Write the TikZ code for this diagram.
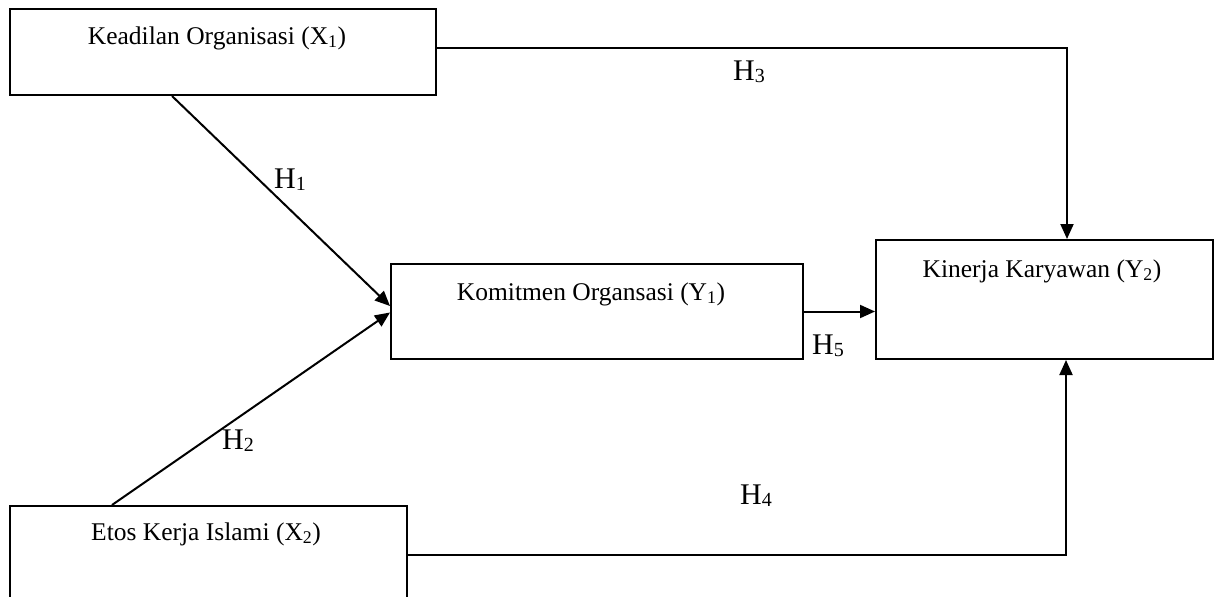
\documentclass[tikz,border=0pt]{standalone}
\usepackage{fontspec}
\setmainfont{Liberation Serif}
\usetikzlibrary{arrows.meta,calc}
\newcommand{\hsub}[1]{\raisebox{-0.08em}{\fontsize{20}{20}\selectfont #1}}
\begin{document}
\begin{tikzpicture}[x=1pt,y=-1pt,
  box/.style={draw,line width=2pt,rectangle,anchor=north west,inner sep=0pt},
  txt/.style={anchor=base,inner sep=0pt,font=\fontsize{25.5}{30}\selectfont},
  hyp/.style={anchor=base west,inner sep=0pt,font=\fontsize{30}{34}\selectfont},
  arr/.style={line width=2pt,-{Triangle[length=15pt,width=13pt]}},
  ln/.style={line width=2pt}]
\clip (0,0) rectangle (1219,597);
\fill[white] (0,0) rectangle (1219,597);
% boxes
\node[box,minimum width=426pt,minimum height=86pt] (x1) at (9,8) {};
\node[box,minimum width=412pt,minimum height=95pt] (y1) at (390,263) {};
\node[box,minimum width=337pt,minimum height=119pt] (y2) at (875,239) {};
\node[box,minimum width=397pt,minimum height=98pt] (x2) at (9,505) {};
% texts
\node[txt] (tx1) at (217,44) {Keadilan Organisasi (X\textsubscript{1})};
\node[txt] (ty1) at (591,300) {Komitmen Organsasi (Y\textsubscript{1})};
\node[txt] (ty2) at (1042,277) {Kinerja Karyawan (Y\textsubscript{2})};
\node[txt] (tx2) at (206,540) {Etos Kerja Islami (X\textsubscript{2})};
% connectors
\draw[arr] ([xshift=163pt]x1.south west) -- ([yshift=5.5pt]y1.west);
\draw[arr] ([xshift=103pt]x2.north west) -- ([yshift=-1pt]y1.west);
\coordinate (c3) at ([xshift=22.5pt]y2.north);
\draw[arr] ([yshift=4pt]x1.east) -| (c3);
\coordinate (c4) at ([xshift=21.5pt]y2.south);
\draw[arr] (x2.east) -| (c4);
\draw[arr] (y1.east) -- (y1.east -| y2.west);
% hypothesis labels
\node[hyp] (h1) at (274,188) {H\hsub{1}};
\node[hyp] (h2) at (222,449) {H\hsub{2}};
\node[hyp] (h3) at (733,80) {H\hsub{3}};
\node[hyp] (h4) at (740,504) {H\hsub{4}};
\node[hyp] (h5) at (812,354) {H\hsub{5}};
\end{tikzpicture}
\end{document}
